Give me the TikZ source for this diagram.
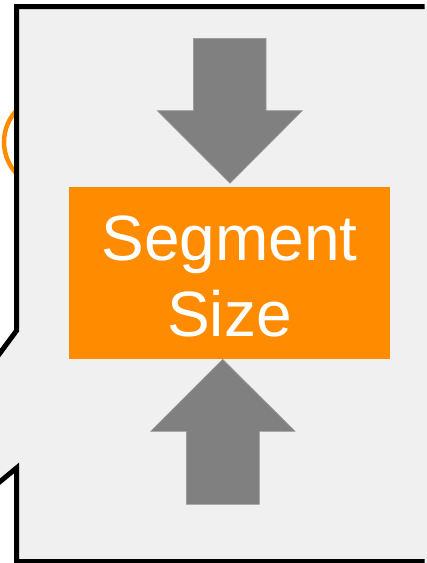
\documentclass[tikz,border=0pt]{standalone}
\usepackage{fontspec}
\setmainfont{Liberation Sans}
\definecolor{panelgray}{HTML}{F0F0F0}
\definecolor{boxorange}{HTML}{FF8C00}
\definecolor{arrowgray}{HTML}{808080}
\begin{document}
\begin{tikzpicture}[x=1pt,y=-1pt,
  panelline/.style={draw=black,line width=5pt,line join=miter},
  bigarrow/.style={fill=arrowgray,draw=arrowgray!80!white,line width=0.6pt},
  labelbox/.style={fill=boxorange,inner sep=0pt,minimum width=321pt,minimum height=172pt},
  labeltext/.style={text=white,inner sep=0pt,font=\fontsize{64}{76}\selectfont,align=center}]
\useasboundingbox (0,0) rectangle (427,563);
\clip (0,0) rectangle (427,563);
% orange ring behind panel
\draw[boxorange,line width=4.5pt] (50,142) circle[radius=46];
% panel
\fill[panelgray] (16.5,6.7) -- (427,6.7) -- (427,563) -- (16.5,563) -- (16.5,468) -- (0,481.6) -- (0,353) -- (16.5,330.7) -- cycle;
\draw[panelline] (424.5,6.7) -- (16.5,6.7) -- (16.5,330.7) -- (-3,357.1);
\draw[panelline] (-3,484.1) -- (16.5,468) -- (16.5,561.5) -- (424.5,561.5);
% arrows
\draw[bigarrow] (193.3,38.3) -- (266,38.3) -- (266,110.7) -- (302.3,110.7) -- (230,183.3) -- (157.3,110.7) -- (193.3,110.7) -- cycle;
\draw[bigarrow] (186.3,504.3) -- (259.3,504.3) -- (259.3,431.3) -- (295,431.3) -- (222.7,359.3) -- (150.7,431.3) -- (186.3,431.3) -- cycle;
% box
\node[labelbox] (seg) at (229.5,273) {};
\node[labeltext] (segtext) at ([yshift=-3.5pt]seg.center) {Segment\\Size};
\end{tikzpicture}
\end{document}
